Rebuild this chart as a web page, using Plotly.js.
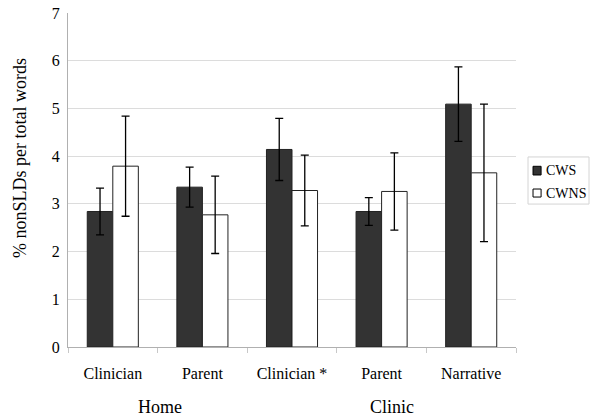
<!DOCTYPE html>
<html>
<head>
<meta charset="utf-8">
<script src="https://cdn.plot.ly/plotly-3.0.1.min.js"></script>
<style>
html,body{margin:0;padding:0;background:#fff;}
#chart{width:600px;height:417px;}
#chart svg text{font-family:"Liberation Serif","Times New Roman",serif !important;}
</style>
</head>
<body>
<div id="chart"></div>
<script>
const categories = ["Home Clinician", "Home Parent", "Clinic Clinician *", "Clinic Parent", "Clinic Narrative"];
const tickLabels = ["Clinician", "Parent", "Clinician *", "Parent", "Narrative"];
const groupLabels = ["Home", "Clinic"];
const seriesNames = ["CWS", "CWNS"];
const yTitle = "% nonSLDs per total words";
const cwsValues = [2.84, 3.35, 4.14, 2.84, 5.09];
const cwsErrors = [0.49, 0.42, 0.65, 0.29, 0.78];
const cwnsValues = [3.79, 2.77, 3.28, 3.26, 3.65];
const cwnsErrors = [1.05, 0.81, 0.74, 0.81, 1.44];

const font = "Liberation Serif, Times New Roman, serif";
const cwsColor = "#333333";
const cwnsColor = "#ffffff";

const traces = [
  {
    type: "bar", name: seriesNames[0], x: categories, y: cwsValues,
    marker: {color: cwsColor, line: {color: "#222222", width: 1}},
    error_y: {type: "data", array: cwsErrors, visible: true, color: "#000", thickness: 1.3, width: 4}
  },
  {
    type: "bar", name: seriesNames[1], x: categories, y: cwnsValues,
    marker: {color: cwnsColor, line: {color: "#222222", width: 1}},
    error_y: {type: "data", array: cwnsErrors, visible: true, color: "#000", thickness: 1.3, width: 4}
  }
];

// legend drawn as shapes + texts in paper coordinates (right of plot)
const legendShapes = [
  {type: "rect", xref: "paper", yref: "paper", x0: 1.0268, x1: 1.163, y0: 0.428, y1: 0.569,
   line: {color: "#d4d4d4", width: 1}, fillcolor: "#ffffff"},
  {type: "rect", xref: "paper", yref: "paper", x0: 1.038, x1: 1.056, y0: 0.515, y1: 0.541,
   line: {color: "#000", width: 1}, fillcolor: cwsColor},
  {type: "rect", xref: "paper", yref: "paper", x0: 1.038, x1: 1.056, y0: 0.449, y1: 0.473,
   line: {color: "#000", width: 1}, fillcolor: cwnsColor}
];
const legendTexts = [
  {text: seriesNames[0], xref: "paper", yref: "paper", x: 1.063, y: 0.528, showarrow: false,
   xanchor: "left", yanchor: "middle", font: {family: font, size: 14}},
  {text: seriesNames[1], xref: "paper", yref: "paper", x: 1.063, y: 0.461, showarrow: false,
   xanchor: "left", yanchor: "middle", font: {family: font, size: 14}}
];

const layout = {
  width: 600, height: 417,
  margin: {l: 68, r: 84, t: 13, b: 70},
  paper_bgcolor: "#fff", plot_bgcolor: "#fff",
  font: {family: font, color: "#000", size: 15},
  barmode: "group", bargap: 0.43, bargroupgap: 0,
  showlegend: false,
  xaxis: {
    type: "category", tickmode: "array", tickvals: categories, ticktext: tickLabels,
    tickson: "boundaries", ticks: "outside", ticklen: 5, tickcolor: "#c8c8c8",
    showline: true, linecolor: "#b0b0b0", linewidth: 1,
    showgrid: false, tickfont: {family: font, size: 16}, ticklabelstandoff: 12
  },
  yaxis: {
    range: [0, 7], dtick: 1, showgrid: true, gridcolor: "#dcdcdc",
    showline: true, linecolor: "#b0b0b0", linewidth: 1, ticks: "", zeroline: false,
    tickfont: {family: font, size: 16}, ticklabelstandoff: 4
  },
  shapes: legendShapes,
  annotations: [
    {text: yTitle, xref: "paper", yref: "paper", x: -0.107, y: 0.566, showarrow: false,
     textangle: -90, xanchor: "center", yanchor: "middle", font: {family: font, size: 18}},
    {text: groupLabels[0], xref: "paper", yref: "paper", x: 0.205, y: -0.18, showarrow: false,
     xanchor: "center", yanchor: "middle", font: {family: font, size: 18}},
    {text: groupLabels[1], xref: "paper", yref: "paper", x: 0.723, y: -0.18, showarrow: false,
     xanchor: "center", yanchor: "middle", font: {family: font, size: 18}}
  ].concat(legendTexts)
};

Plotly.newPlot("chart", traces, layout, {displayModeBar: false, staticPlot: true});
</script>
</body>
</html>
